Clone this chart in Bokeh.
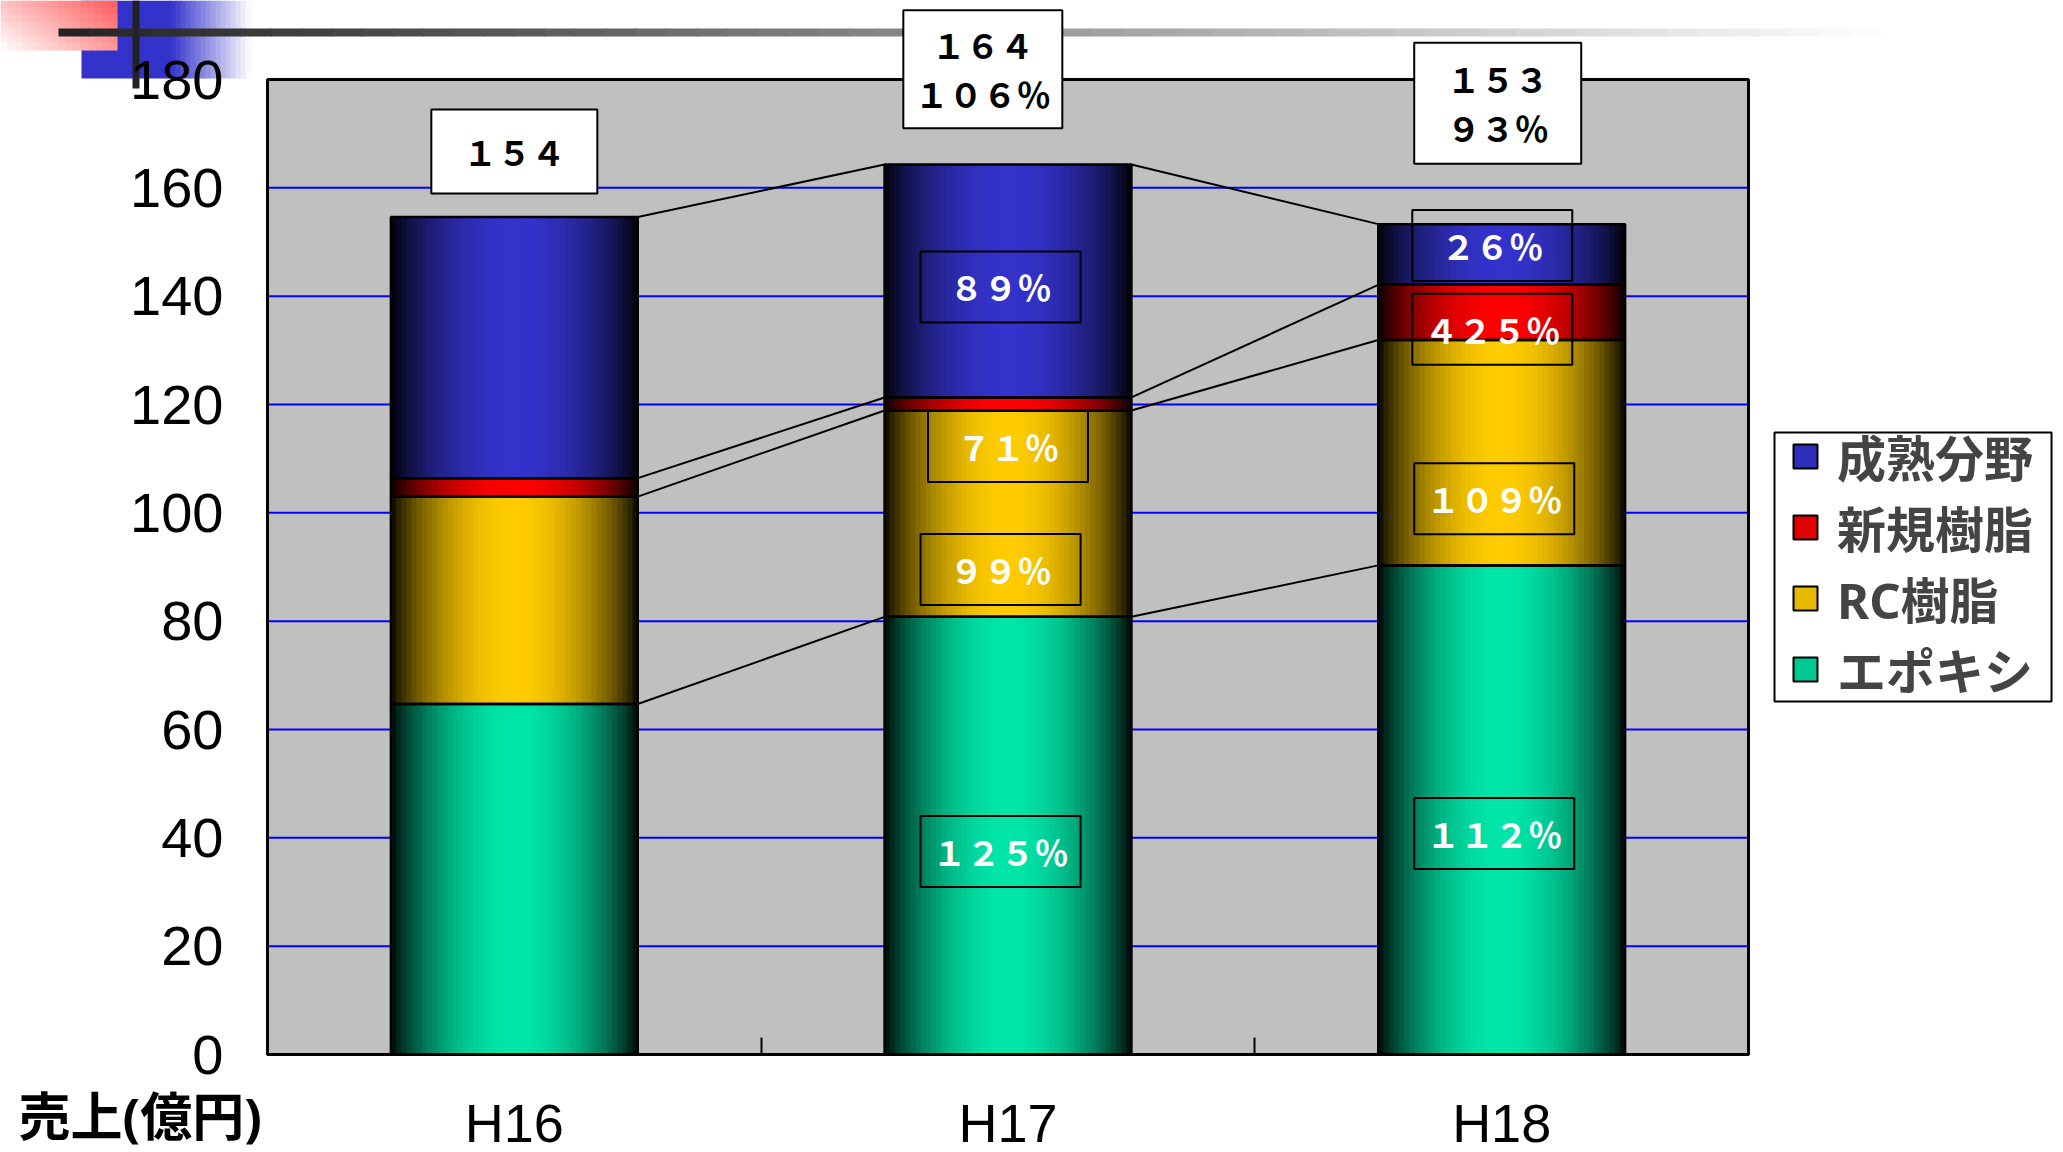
import numpy as np
from bokeh.plotting import figure
from bokeh.models import (Range1d, FixedTicker, Label, BoxAnnotation, Legend, LegendItem)
from bokeh.embed import file_html
from bokeh.resources import INLINE

# ---------------- data ----------------
categories = ["H16", "H17", "H18"]
series_names = ["エポキシ", "RC樹脂", "新規樹脂", "成熟分野"]
epoxy = [64.7, 80.8, 90.3]
rc_resin = [38.3, 38.1, 41.6]
new_resin = [3.4, 2.4, 10.2]
mature = [48.2, 43.0, 11.2]
total_labels = ["１５４", "１６４\n１０６％", "１５３\n９３％"]
pct_labels_h17 = ["１２５％", "９９％", "７１％", "８９％"]
pct_labels_h18 = ["１１２％", "１０９％", "４２５％", "２６％"]
y_ticks = [0, 20, 40, 60, 80, 100, 120, 140, 160, 180]
axis_title = "売上(億円)"

# ---------------- layout / style constants ----------------
W, H = 2063, 1152
FL, FR, FT, FB = 267, 1748, 79, 1054          # plot-area edges on the canvas
X_MAX = float(len(categories))
Y_MAX = float(y_ticks[-1])
PX_X = (FR - FL) / X_MAX
PX_Y = (FB - FT) / Y_MAX
BAR_W = 0.5
N_STRIPS = 48
peak_colors = ["#00E6A8", "#FFCC00", "#FF0000", "#3333CC"]
legend_colors = ["#00C891", "#E6B800", "#E00000", "#2E2EB8"]
CJK = "Noto Sans CJK JP"
LAT = "Liberation Sans"
MIXED_FONT = "Noto Sans, Noto Sans CJK JP"
LEGEND_BOX = (1774, 432, 2051, 701)            # canvas px: left, top, right, bottom

# label offsets (x in category units, y in value units) relative to segment middle / bar top
pct_offsets_h17 = [(-0.015, -2.9), (-0.015, -10.3), (0.0, -7.85), (-0.015, -1.1)]
pct_offsets_h18 = [(-0.015, -4.35), (-0.015, -8.5), (-0.019, -3.1), (-0.019, 1.65)]
total_offsets = [(0.0, 12.1), (-0.051, 17.6), (-0.008, 22.3)]
total_box_px = [(166, 84), (159, 118), (167, 121)]
PCT_BOX_PX = (160, 71)


def hex_rgb(h):
    h = h.lstrip("#")
    return [int(h[i:i + 2], 16) for i in (0, 2, 4)]


def to_hex(rgb):
    return "#%02x%02x%02x" % tuple(int(max(0, min(255, round(c)))) for c in rgb)


# the frame covers the whole canvas; the axes are pinned at x=0 / y=0
x_range = Range1d(-FL / PX_X, (W - FL) / PX_X)
y_range = Range1d(-(H - FB) / PX_Y, FB / PX_Y)
p = figure(width=W, height=H, x_range=x_range, y_range=y_range,
           output_backend="svg", toolbar_location=None,
           min_border=0, min_border_left=0, min_border_right=0, min_border_top=0,
           min_border_bottom=0, background_fill_color="white", border_fill_color="white",
           outline_line_color=None)
p.title.visible = False
p.grid.visible = False

xc = np.arange(len(categories)) + 0.5
series = [epoxy, rc_resin, new_resin, mature]

# ---------------- plot area & grid ----------------
p.quad(left=[0], right=[X_MAX], bottom=[0], top=[Y_MAX], fill_color="#C0C0C0", line_color=None)
grid_y = y_ticks[1:-1]
p.segment(x0=[0] * len(grid_y), x1=[X_MAX] * len(grid_y), y0=grid_y, y1=grid_y,
          line_color="#0000FF", line_width=2)
p.quad(left=[0], right=[X_MAX], bottom=[0], top=[Y_MAX], fill_color=None,
       line_color="black", line_width=3)

# ---------------- gradient bars ----------------
strips = dict(left=[], right=[], bottom=[], top=[], color=[])
outl = dict(left=[], right=[], bottom=[], top=[])
cum = np.zeros(len(categories))
bounds = []
mids = []
for s, vals in enumerate(series):
    vals = np.array(vals, dtype=float)
    bottoms = cum.copy()
    tops = cum + vals
    rgb = np.array(hex_rgb(peak_colors[s]), dtype=float)
    dw = BAR_W / N_STRIPS
    for i in range(len(categories)):
        x0 = xc[i] - BAR_W / 2
        for k in range(N_STRIPS):
            t = (k + 0.5) / N_STRIPS
            f = max(np.sin(np.pi * t), 0.0) ** 0.75
            strips["left"].append(x0 + k * dw)
            strips["right"].append(x0 + (k + 1) * dw + (0.6 * dw if k < N_STRIPS - 1 else 0))
            strips["bottom"].append(bottoms[i])
            strips["top"].append(tops[i])
            strips["color"].append(to_hex(rgb * f))
        outl["left"].append(x0)
        outl["right"].append(x0 + BAR_W)
        outl["bottom"].append(bottoms[i])
        outl["top"].append(tops[i])
    mids.append((bottoms + tops) / 2)
    bounds.append(tops.copy())
    cum = tops

p.quad(left="left", right="right", bottom="bottom", top="top", fill_color="color",
       line_color=None, source=strips)
p.quad(left="left", right="right", bottom="bottom", top="top", fill_color=None,
       line_color="black", line_width=2.5, source=outl)

# series connector lines
seg = dict(x0=[], y0=[], x1=[], y1=[])
for b in bounds:
    for i in range(len(categories) - 1):
        seg["x0"].append(xc[i] + BAR_W / 2)
        seg["y0"].append(b[i])
        seg["x1"].append(xc[i + 1] - BAR_W / 2)
        seg["y1"].append(b[i + 1])
p.segment(x0="x0", y0="y0", x1="x1", y1="y1", line_color="black", line_width=2, source=seg)

# ---------------- data labels ----------------
def add_box_label(cx, cy, bw, bh, text, fill, text_color):
    p.add_layout(BoxAnnotation(left=cx - bw / 2 / PX_X, right=cx + bw / 2 / PX_X,
                               bottom=cy - bh / 2 / PX_Y, top=cy + bh / 2 / PX_Y,
                               fill_color=fill, fill_alpha=1.0 if fill else 0.0,
                               line_color="black", line_width=2, line_alpha=1.0))
    p.add_layout(Label(x=cx, y=cy, text=text, text_align="center", text_baseline="middle",
                       text_color=text_color, text_font=CJK, text_font_style="bold",
                       text_font_size="34px", text_line_height=1.0))


for i, labels, offs in [(1, pct_labels_h17, pct_offsets_h17), (2, pct_labels_h18, pct_offsets_h18)]:
    for s in range(len(series)):
        dx, dy = offs[s]
        add_box_label(xc[i] + dx, mids[s][i] + dy, PCT_BOX_PX[0], PCT_BOX_PX[1],
                      labels[s], None, "white")

for i in range(len(categories)):
    dx, dy = total_offsets[i]
    bw, bh = total_box_px[i]
    add_box_label(xc[i] + dx, bounds[-1][i] + dy, bw, bh, total_labels[i], "white", "black")

# ---------------- axes (pinned to the plot-area edges) ----------------
yax = p.yaxis[0]
yax.fixed_location = 0
yax.bounds = (0, Y_MAX)
yax.ticker = FixedTicker(ticks=y_ticks)
yax.axis_line_color = None
yax.major_tick_line_color = None
yax.minor_tick_line_color = None
yax.major_label_text_font = LAT
yax.major_label_text_font_size = "56px"
yax.major_label_text_color = "black"
yax.major_label_standoff = 38

xax = p.xaxis[0]
xax.fixed_location = 0
xax.bounds = (0, X_MAX)
xax.ticker = FixedTicker(ticks=list(xc), minor_ticks=[1.0, 2.0])
xax.major_label_overrides = {float(x): c for x, c in zip(xc, categories)}
xax.major_tick_line_color = None
xax.minor_tick_in = 17
xax.minor_tick_out = 0
xax.minor_tick_line_color = "black"
xax.minor_tick_line_width = 2
xax.axis_line_color = "black"
xax.axis_line_width = 3
xax.major_label_text_font = LAT
xax.major_label_text_font_size = "54px"
xax.major_label_text_color = "black"
xax.major_label_standoff = 32

p.add_layout(Label(x=18, y=H - 1115, x_units="screen", y_units="screen", text=axis_title,
                   text_align="left", text_baseline="middle", text_font=MIXED_FONT,
                   text_font_style="bold", text_font_size="52px", text_color="black"))

# ---------------- legend ----------------
lx0, ly0, lx1, ly1 = LEGEND_BOX
p.add_layout(BoxAnnotation(left=lx0, right=lx1, top=H - ly0, bottom=H - ly1,
                           left_units="screen", right_units="screen",
                           top_units="screen", bottom_units="screen",
                           fill_color="white", fill_alpha=1.0, line_color="black",
                           line_width=2, line_alpha=1.0))
items = []
for s in reversed(range(len(series))):
    r = p.quad(left=[np.nan], right=[np.nan], top=[np.nan], bottom=[np.nan],
               fill_color=legend_colors[s], line_color="black", line_width=2)
    items.append(LegendItem(label=series_names[s], renderers=[r]))
legend = Legend(items=items, location=(lx0 + 16, H - ly1 - 3), margin=0, padding=0,
                spacing=0, glyph_width=30, glyph_height=30, label_standoff=17,
                label_text_font=MIXED_FONT, label_text_font_style="bold",
                label_text_font_size="49px", border_line_color=None,
                background_fill_alpha=0.0)
p.add_layout(legend)

# ---------------- slide decorations ----------------
def deco(x0, y0, x1, y1, color):
    p.add_layout(BoxAnnotation(left=x0, right=x1, top=H - y0, bottom=H - y1,
                               left_units="screen", right_units="screen",
                               top_units="screen", bottom_units="screen",
                               fill_color=color, fill_alpha=1.0, line_color=None,
                               level="underlay"))

blue = np.array(hex_rgb("#3333CC"), dtype=float)
white = np.array([255.0, 255.0, 255.0])
deco(81, 0, 171, 78, "#3333CC")
nb = 16
for k in range(nb):
    t = (k + 0.5) / nb
    xa = 170 + k * 80 / nb
    deco(xa, 0, xa + 80 / nb + 1, 78, to_hex(blue + (white - blue) * t))
red = np.array([255.0, 90.0, 90.0])
nx, ny = 16, 7
for a in range(nx):
    for b in range(ny):
        w = 0.62 * (a + 0.5) / nx + 0.38 * (1 - (b + 0.5) / ny)
        xa = a * 116 / nx
        ya = b * 49 / ny
        deco(xa, ya, xa + 116 / nx + 1, ya + 49 / ny + 1, to_hex(white + (red - white) * w))
dark = np.array([34.0, 34.0, 34.0])
nl = 60
for k in range(nl):
    t = (k + 0.5) / nl
    xa = 58 + k * (1880 - 58) / nl
    deco(xa, 28, xa + (1880 - 58) / nl + 1, 36, to_hex(dark + (white - dark) * t))
deco(132, 0, 139, 88, "#222222")

open("out.html", "w").write(file_html(p, INLINE, "chart"))
